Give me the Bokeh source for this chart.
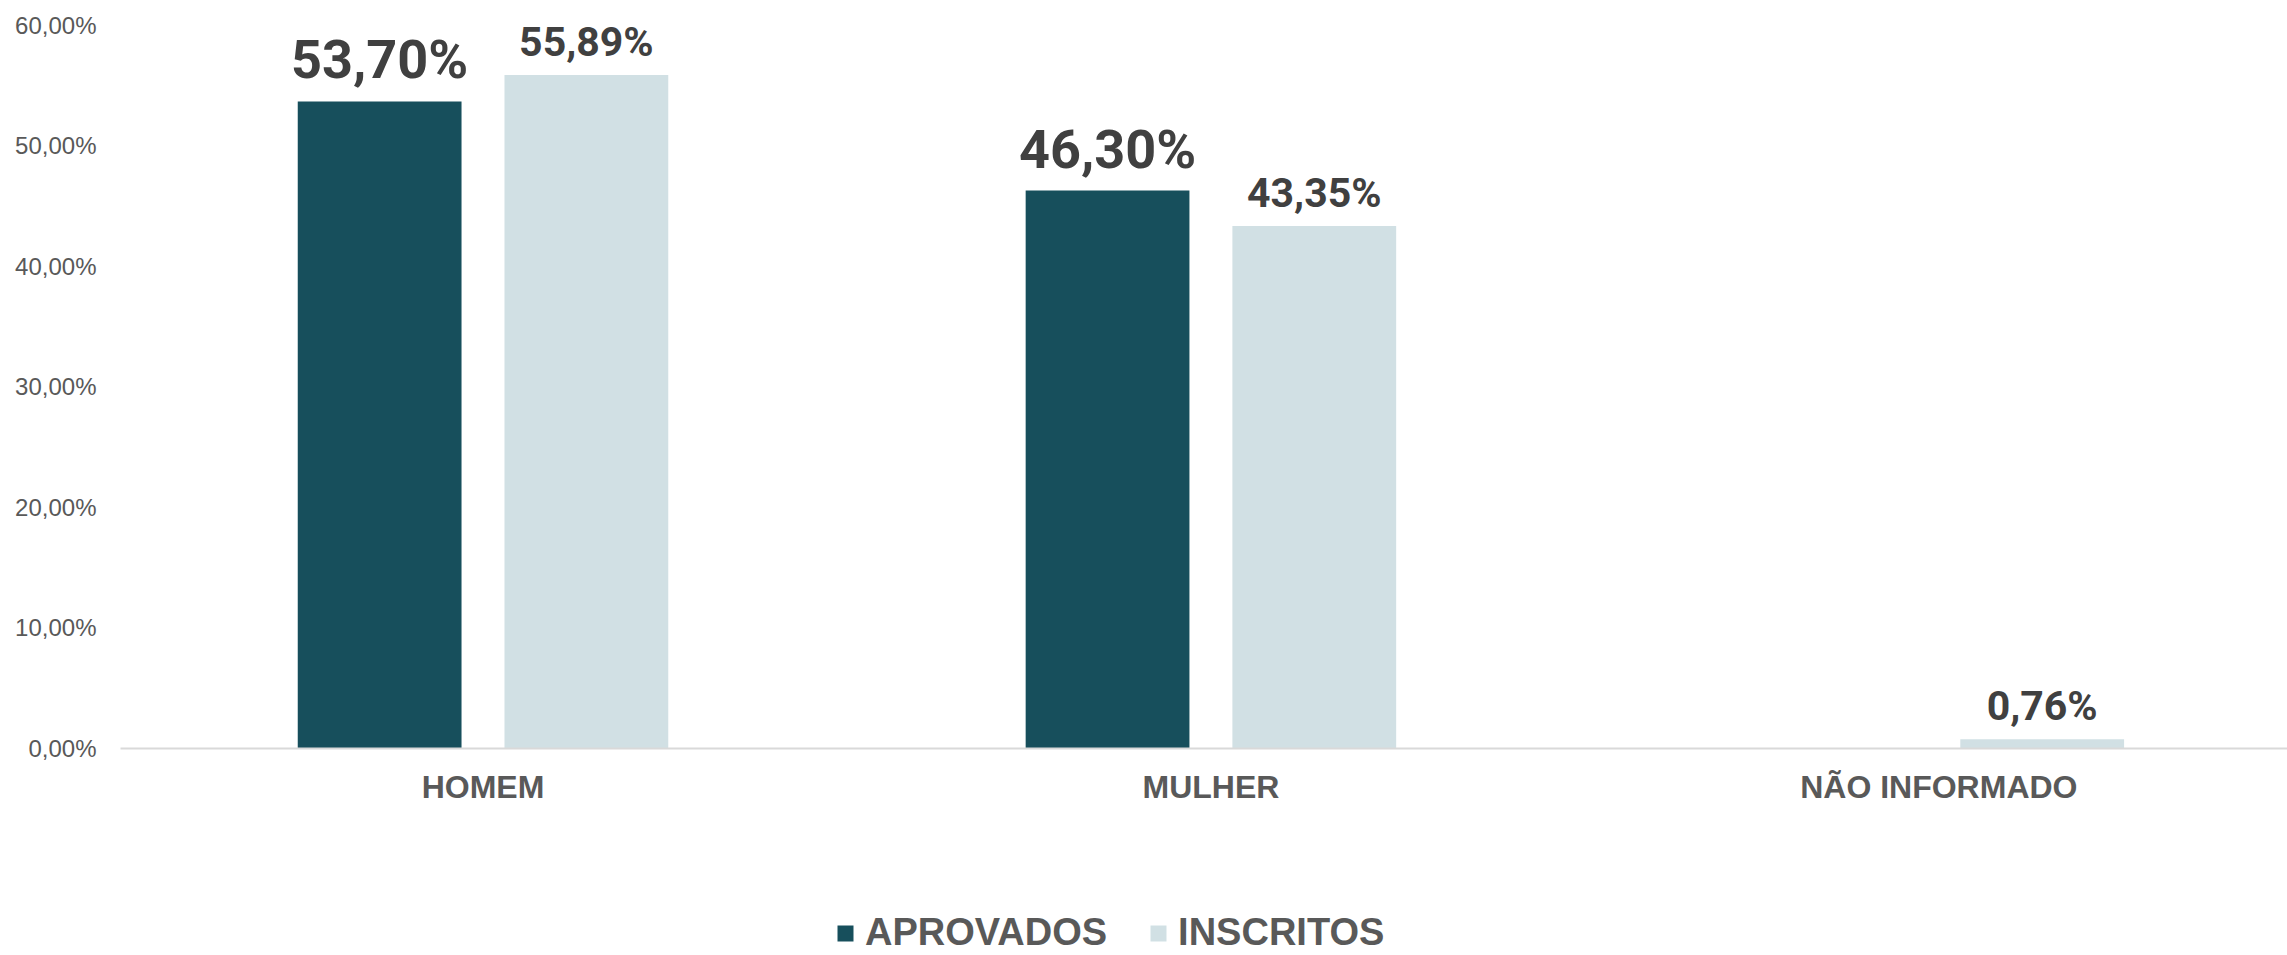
from bokeh.plotting import figure
from bokeh.layouts import column
from bokeh.models import ColumnDataSource, FixedTicker, Legend, LegendItem, Range1d, LabelSet
from bokeh.transform import dodge
from bokeh.embed import file_html
from bokeh.resources import INLINE
from bokeh.core.properties import value

categories = ["HOMEM", "MULHER", "NÃO INFORMADO"]
aprovados = [53.70, 46.30, float("nan")]
inscritos = [55.89, 43.35, 0.76]
aprovados_labels = ["53,70%", "46,30%", ""]
inscritos_labels = ["55,89%", "43,35%", "0,76%"]
y_ticks = [0, 10, 20, 30, 40, 50, 60]
y_tick_labels = ["0,00%", "10,00%", "20,00%", "30,00%", "40,00%", "50,00%", "60,00%"]
series_names = ["APROVADOS", "INSCRITOS"]
colors = ["#174F5C", "#D1E0E4"]

xs = list(range(len(categories)))
src = ColumnDataSource(dict(x=xs, apr=aprovados, ins=inscritos))

apr_idx = [i for i, v in enumerate(aprovados) if v == v and v > 0]
src_apr_lbl = ColumnDataSource(dict(x=[xs[i] for i in apr_idx],
                                    y=[aprovados[i] for i in apr_idx],
                                    t=[aprovados_labels[i] for i in apr_idx]))
src_ins_lbl = ColumnDataSource(dict(x=xs, y=inscritos, t=inscritos_labels))

W = 2287
H1 = 880
H2 = 75

p = figure(width=W, height=H1, output_backend="svg", toolbar_location=None,
           x_range=Range1d(-0.498, 2.479), y_range=Range1d(0, 60.58),
           min_border_left=120, min_border_right=0, min_border_top=18, min_border_bottom=132)
p.outline_line_color = None
p.xgrid.visible = False
p.ygrid.visible = False

off = 0.142
bw = 0.225
p.vbar(x=dodge("x", -off), top="apr", width=bw, source=src, fill_color=colors[0], line_color=None)
p.vbar(x=dodge("x", off), top="ins", width=bw, source=src, fill_color=colors[1], line_color=None)

lab1 = LabelSet(x=dodge("x", -off), y="y", text="t", source=src_apr_lbl, text_align="center",
                text_baseline="alphabetic", y_offset=23, text_font=value("Roboto"),
                text_font_style="bold", text_font_size="54px", text_color="#404040")
lab2 = LabelSet(x=dodge("x", off), y="y", text="t", source=src_ins_lbl, text_align="center",
                text_baseline="alphabetic", y_offset=19, text_font=value("Roboto"),
                text_font_style="bold", text_font_size="41px", text_color="#404040")
p.add_layout(lab1)
p.add_layout(lab2)

xa = p.xaxis[0]
xa.ticker = FixedTicker(ticks=xs)
xa.major_label_overrides = {i: c for i, c in zip(xs, categories)}
xa.axis_line_color = "#D9D9D9"
xa.axis_line_width = 2
xa.major_tick_line_color = None
xa.minor_tick_line_color = None
xa.major_label_text_font = "Liberation Sans"
xa.major_label_text_font_style = "bold"
xa.major_label_text_font_size = "32px"
xa.major_label_text_color = "#595959"
xa.major_label_standoff = 14

ya = p.yaxis[0]
ya.ticker = FixedTicker(ticks=y_ticks)
ya.major_label_overrides = {t: l for t, l in zip(y_ticks, y_tick_labels)}
ya.axis_line_color = None
ya.major_tick_line_color = None
ya.minor_tick_line_color = None
ya.major_label_text_font = "Liberation Sans"
ya.major_label_text_font_size = "24px"
ya.major_label_text_color = "#595959"
ya.major_label_standoff = 18

# legend strip below the chart (same series, bars fall outside this strip's range)
pl = figure(width=W, height=H2, output_backend="svg", toolbar_location=None,
            x_range=Range1d(-0.498, 2.479), y_range=Range1d(1000, 1001),
            x_axis_location=None, y_axis_location=None,
            min_border_left=0, min_border_right=0, min_border_top=0, min_border_bottom=0)
pl.outline_line_color = None
pl.xgrid.visible = False
pl.ygrid.visible = False
lr1 = pl.vbar(x=dodge("x", -off), top="apr", width=bw, source=src, fill_color=colors[0], line_color=None)
lr2 = pl.vbar(x=dodge("x", off), top="ins", width=bw, source=src, fill_color=colors[1], line_color=None)

legend = Legend(items=[LegendItem(label=series_names[0], renderers=[lr1], index=0),
                       LegendItem(label=series_names[1], renderers=[lr2], index=0)],
                location=(715, 1), orientation="horizontal",
                label_text_font="Liberation Sans", label_text_font_style="bold",
                label_text_font_size="38px", label_text_color="#595959",
                glyph_width=20, glyph_height=20, label_standoff=10, spacing=41,
                padding=0, margin=0, border_line_color=None, background_fill_alpha=0)
pl.add_layout(legend)

layout = column(p, pl, spacing=0)
open("out.html", "w").write(file_html(layout, INLINE))
